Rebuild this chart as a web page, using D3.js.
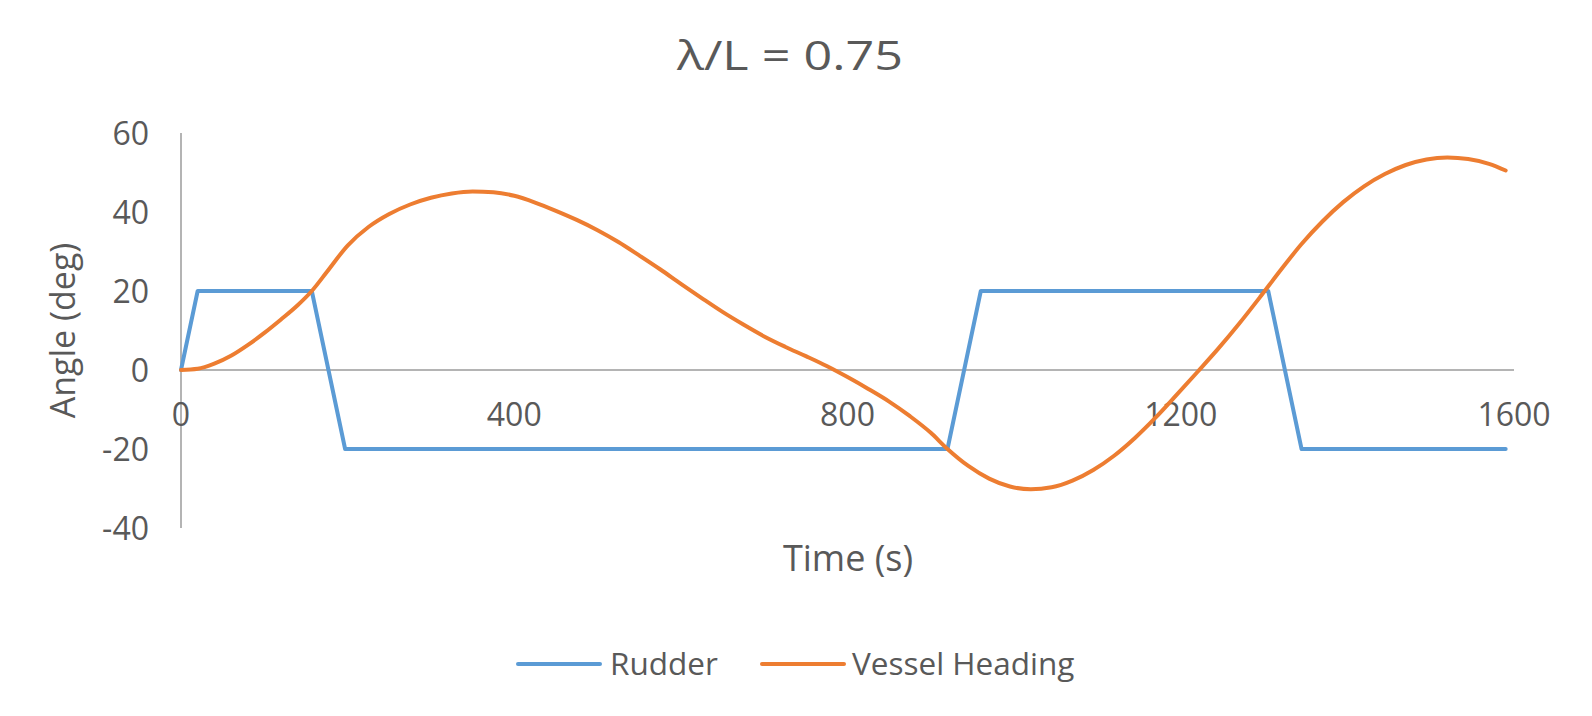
<!DOCTYPE html>
<html>
<head>
<meta charset="utf-8">
<script src="https://cdn.jsdelivr.net/npm/d3@7"></script>
<style>
  html, body { margin: 0; padding: 0; background: #fff; }
  svg { display: block; }
  text { font-family: "Open Sans", "Noto Sans", sans-serif; fill: #595959; }
</style>
</head>
<body>
<svg id="chart" width="1592" height="716"></svg>
<script>
const title = "λ/L = 0.75";
const xTitle = "Time (s)";
const yTitle = "Angle (deg)";
const xTicks = [0, 400, 800, 1200, 1600];
const yTicks = [-40, -20, 0, 20, 40, 60];
const seriesNames = ["Rudder", "Vessel Heading"];
const seriesColors = ["#5B9BD5", "#ED7D31"];

const rudderTime = [0, 20, 157, 197, 920, 960, 1305, 1345, 1590];
const rudderAngle = [0, 20, 20, -20, -20, 20, 20, -20, -20];

const headingTime = [0, 20, 40, 60, 80, 100, 120, 140, 157, 175, 200, 225, 250, 275, 300, 325, 350, 375, 400,
  425, 450, 475, 500, 525, 550, 575, 600, 625, 650, 675, 700, 725, 750, 775, 800, 825, 850, 875, 900, 920,
  945, 970, 995, 1020, 1045, 1070, 1095, 1120, 1145, 1170, 1195, 1220, 1245, 1270, 1295, 1320, 1345, 1370,
  1395, 1420, 1445, 1470, 1495, 1520, 1545, 1570, 1590];
const headingAngle = [0, 0.3, 1.6, 3.6, 6.3, 9.4, 12.8, 16.4, 20.0, 24.8, 31.5, 36.2, 39.5, 41.9, 43.6, 44.7, 45.2, 45.0, 44.1,
  42.4, 40.3, 38.0, 35.4, 32.4, 29.0, 25.5, 21.8, 18.2, 14.7, 11.5, 8.5, 5.9, 3.5, 1.0, -1.8, -4.8, -8.0, -11.7, -15.9, -20.0,
  -24.3, -27.5, -29.5, -30.2, -29.7, -28.0, -25.3, -21.7, -17.2, -12.0, -6.3, -0.5, 5.4, 11.7, 18.4, 25.3, 31.9, 37.6,
  42.5, 46.5, 49.6, 51.9, 53.3, 53.8, 53.4, 52.2, 50.5];

const svg = d3.select("#chart");
const x = d3.scaleLinear().domain([0, 1600]).range([181, 1514]);
const y = d3.scaleLinear().domain([-40, 60]).range([528, 133]);

// Title
svg.append("text")
  .attr("x", 790).attr("y", 70)
  .attr("text-anchor", "middle")
  .attr("textLength", 226)
  .attr("lengthAdjust", "spacingAndGlyphs")
  .style("font-size", "41px")
  .text(title);

// Y axis line
svg.append("line")
  .attr("x1", x(0)).attr("x2", x(0))
  .attr("y1", y(60)).attr("y2", y(-40))
  .attr("stroke", "#B4B4B4").attr("stroke-width", 2);

// Zero line (x axis)
svg.append("line")
  .attr("x1", x(0)).attr("x2", x(1600))
  .attr("y1", y(0)).attr("y2", y(0))
  .attr("stroke", "#B4B4B4").attr("stroke-width", 2);

// Y tick labels
svg.append("g").selectAll("text").data(yTicks).join("text")
  .attr("x", 149).attr("y", d => y(d))
  .attr("dy", "0.36em")
  .attr("text-anchor", "end")
  .style("font-size", "32px")
  .text(d => d);

// X tick labels
svg.append("g").selectAll("text").data(xTicks).join("text")
  .attr("x", d => x(d)).attr("y", 426)
  .attr("text-anchor", "middle")
  .style("font-size", "32px")
  .text(d => d);

// Axis titles
svg.append("text")
  .attr("x", 848).attr("y", 571)
  .attr("text-anchor", "middle")
  .style("font-size", "36px")
  .text(xTitle);

svg.append("text")
  .attr("transform", `translate(75, ${(y(60) + y(-40)) / 2}) rotate(-90)`)
  .attr("text-anchor", "middle")
  .style("font-size", "34px")
  .text(yTitle);

// Lines
const rudderData = rudderTime.map((t, i) => [t, rudderAngle[i]]);
const headingData = headingTime.map((t, i) => [t, headingAngle[i]]);

const lineStraight = d3.line().x(d => x(d[0])).y(d => y(d[1]));
const lineSmooth = d3.line().x(d => x(d[0])).y(d => y(d[1])).curve(d3.curveMonotoneX);

svg.append("path")
  .datum(rudderData)
  .attr("d", lineStraight)
  .attr("fill", "none")
  .attr("stroke", seriesColors[0])
  .attr("stroke-width", 4)
  .attr("stroke-linejoin", "round")
  .attr("stroke-linecap", "round");

svg.append("path")
  .datum(headingData)
  .attr("d", lineSmooth)
  .attr("fill", "none")
  .attr("stroke", seriesColors[1])
  .attr("stroke-width", 4)
  .attr("stroke-linejoin", "round")
  .attr("stroke-linecap", "round");

// Legend
const legendItems = [
  { name: seriesNames[0], color: seriesColors[0], x1: 518, tx: 610 },
  { name: seriesNames[1], color: seriesColors[1], x1: 762, tx: 852 }
];
const lg = svg.append("g");
legendItems.forEach(it => {
  lg.append("line")
    .attr("x1", it.x1).attr("x2", it.x1 + 82)
    .attr("y1", 664).attr("y2", 664)
    .attr("stroke", it.color).attr("stroke-width", 4)
    .attr("stroke-linecap", "round");
  lg.append("text")
    .attr("x", it.tx).attr("y", 675)
    .style("font-size", "31.5px")
    .text(it.name);
});
</script>
</body>
</html>
